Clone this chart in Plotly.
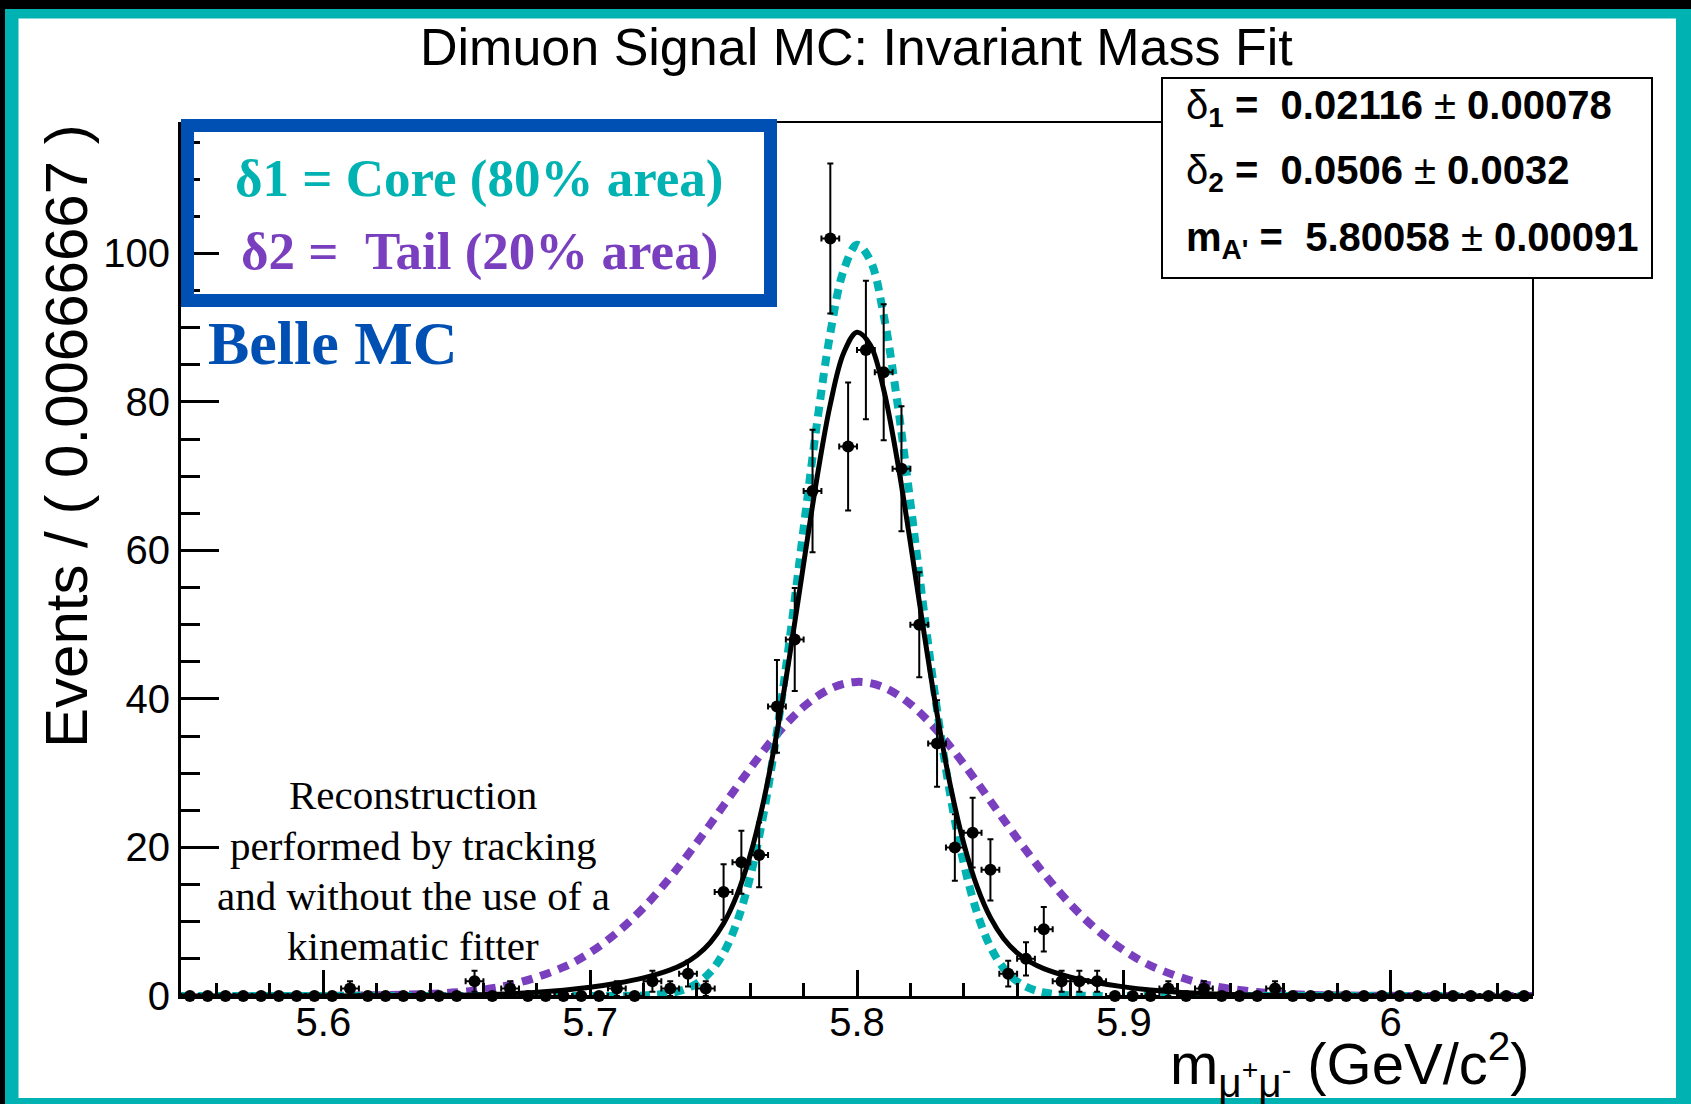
import plotly.graph_objects as go

# ------------------------------------------------------------------ data
X_MIN = 5.546667          # histogram / axis range (76 bins of 0.00666667)
X_MAX = 6.053333
BIN_W = 0.00666667
Y_MAX = 117.7

# events per bin (bins 0..75, left to right)
counts = [0, 0, 0, 0, 0, 0, 0, 0, 0, 1,
          0, 0, 0, 0, 0, 0, 2, 0, 1, 0,
          0, 0, 0, 0, 1, 0, 2, 1, 3, 1,
          14, 18, 19, 39, 48, 68, 102, 74, 87, 84,
          71, 50, 34, 20, 22, 17, 3, 5, 9, 2,
          2, 2, 0, 0, 0, 1, 0, 1, 0, 0,
          0, 1, 0, 0, 0, 0, 0, 0, 0, 0,
          0, 0, 0, 0, 0, 0]

# fit curves
curve_x = [5.5467, 5.60, 5.65, 5.67, 5.69, 5.70, 5.71, 5.72, 5.73, 5.735,
           5.74, 5.745, 5.75, 5.755, 5.76, 5.765, 5.77, 5.775, 5.78, 5.785,
           5.79, 5.795, 5.80, 5.805, 5.81, 5.815, 5.82, 5.825, 5.83, 5.835,
           5.84, 5.845, 5.85, 5.855, 5.86, 5.865, 5.87, 5.88, 5.89, 5.90,
           5.91, 5.93, 5.95, 5.97, 6.00, 6.0533]
total_fit = [0, 0.003, 0.10, 0.30, 0.78, 1.17, 1.71, 2.44, 3.51, 4.31,
             5.47, 7.19, 9.77, 13.58, 18.98, 26.27, 35.51, 46.38, 58.19, 69.76,
             79.69, 86.59, 89.39, 87.66, 81.67, 72.35, 61.04, 49.17, 37.99, 28.31,
             20.55, 14.72, 10.55, 7.72, 5.82, 4.55, 3.68, 2.54, 1.79, 1.23,
             0.82, 0.32, 0.11, 0.03, 0.004, 0]
core_fit = [0, 0, 0, 0, 0, 0.001, 0.011, 0.072, 0.387, 0.83,
            1.68, 3.21, 5.80, 9.93, 16.06, 24.58, 35.58, 48.68, 63.0, 77.11,
            89.26, 97.72, 101.16, 99.04, 91.69, 80.28, 66.47, 52.05, 38.55, 26.99,
            17.88, 11.20, 6.63, 3.71, 1.97, 0.99, 0.47, 0.089, 0.013, 0.002,
            0, 0, 0, 0, 0, 0]
tail_fit = [0.0001, 0.016, 0.50, 1.51, 3.88, 5.86, 8.52, 11.89, 15.98, 18.26,
            20.65, 23.13, 25.66, 28.18, 30.66, 33.03, 35.23, 37.22, 38.94, 40.34,
            41.38, 42.04, 42.30, 42.14, 41.58, 40.62, 39.30, 37.66, 35.73, 33.57,
            31.24, 28.79, 26.26, 23.73, 21.24, 18.82, 16.51, 12.35, 8.88, 6.15,
            4.09, 1.61, 0.54, 0.156, 0.018, 0]

x_tick_vals = [5.6, 5.7, 5.8, 5.9, 6.0]
x_tick_text = ["5.6", "5.7", "5.8", "5.9", "6"]
y_tick_vals = [0, 20, 40, 60, 80, 100]

title_text = "Dimuon Signal MC: Invariant Mass Fit"
y_title = "Events / ( 0.00666667 )"
x_title = "m<sub>μ<sup>+</sup>μ<sup>-</sup></sub> (GeV/c<sup>2</sup>)"
stats_lines = ["δ<sub><b>1</b></sub><b> =  0.02116 </b>±<b> 0.00078</b>",
               "δ<sub><b>2</b></sub><b> =  0.0506 </b>±<b> 0.0032</b>",
               "<b>m<sub>A'</sub> =  5.80058 </b>±<b> 0.00091</b>"]
legend_lines = ["δ1 = Core (80% area)", "δ2 =\u00a0 Tail (20% area)"]
note_lines = ["Reconstruction", "performed by tracking",
              "and without the use of a", "kinematic fitter"]

# ------------------------------------------------------------------ geometry
W, H = 1691, 1104
PL, PR, PT, PB = 181, 1533, 122, 996   # plot area in pixels


def px(x):
    return (x - PL) / (PR - PL)


def py(y):
    return (PB - y) / (PB - PT)


TEAL = "#00B2B2"
PURPLE = "#7A3FBE"
BLUE = "#0050B4"
SANS = "Liberation Sans"
SERIF = "Liberation Serif"

centers = [X_MIN + (k + 0.5) * BIN_W for k in range(len(counts))]

fig = go.Figure()

fig.add_trace(go.Scatter(x=curve_x, y=tail_fit, mode="lines", line_shape="spline",
                         line=dict(color=PURPLE, width=8, dash="11px,8px"),
                         hoverinfo="skip", showlegend=False))
fig.add_trace(go.Scatter(x=curve_x, y=core_fit, mode="lines", line_shape="spline",
                         line=dict(color=TEAL, width=8, dash="10px,7px"),
                         hoverinfo="skip", showlegend=False))
fig.add_trace(go.Scatter(x=curve_x, y=total_fit, mode="lines", line_shape="spline",
                         line=dict(color="black", width=5),
                         hoverinfo="skip", showlegend=False))
fig.add_trace(go.Scatter(x=centers, y=counts, mode="markers",
                         marker=dict(color="black", size=12),
                         error_y=dict(type="sqrt", color="black", thickness=2, width=3),
                         error_x=dict(type="constant", value=BIN_W / 2, color="black",
                                      thickness=2, width=3),
                         cliponaxis=False, showlegend=False))

axis_common = dict(showline=True, linecolor="black", linewidth=3, mirror=False,
                   ticks="inside", tickcolor="black", tickwidth=2.5,
                   showgrid=False, zeroline=False,
                   tickfont=dict(family=SANS, size=40, color="black"))

fig.update_xaxes(range=[X_MIN, X_MAX], tickmode="array", tickvals=x_tick_vals,
                 ticktext=x_tick_text, ticklen=26, ticklabelstandoff=-11,
                 minor=dict(ticks="inside", ticklen=13, tickwidth=2.5, tickcolor="black",
                            dtick=0.02, tick0=5.5),
                 **axis_common)
fig.update_yaxes(range=[0, Y_MAX], tickmode="array", tickvals=y_tick_vals, ticklen=38,
                 minor=dict(ticks="inside", ticklen=19, tickwidth=2.5, tickcolor="black",
                            dtick=5, tick0=0),
                 **axis_common)

shapes = []
# top and right frame lines
shapes.append(dict(type="line", xref="paper", yref="paper", x0=0, x1=1, y0=1, y1=1,
                   line=dict(color="black", width=2), layer="above"))
shapes.append(dict(type="line", xref="paper", yref="paper", x0=1, x1=1, y0=0, y1=1,
                   line=dict(color="black", width=2), layer="above"))
# fit-result box
shapes.append(dict(type="rect", xref="paper", yref="paper",
                   x0=px(1162), x1=px(1652), y0=py(278), y1=py(78),
                   fillcolor="white", line=dict(color="black", width=2), layer="above"))
# blue legend box
shapes.append(dict(type="rect", xref="paper", yref="paper",
                   x0=px(187.5), x1=px(770.5), y0=py(300.5), y1=py(125.5),
                   fillcolor="rgba(0,0,0,0)", line=dict(color=BLUE, width=13),
                   layer="above"))
# outer teal / black frame of the picture
for (x0, y0, x1, y1, c) in [(0, 0, W, 9, "black"), (0, 0, 5, H, "black"),
                            (5, 9, W, 18.5, TEAL), (5, 9, 18.5, H, TEAL),
                            (1676, 9, W, H, TEAL), (5, 1098, W, H, TEAL)]:
    shapes.append(dict(type="rect", xref="paper", yref="paper",
                       x0=px(x0), x1=px(x1), y0=py(y1), y1=py(y0),
                       fillcolor=c, line=dict(width=0), layer="above"))

ann = []
ann.append(dict(text=title_text, x=px(856), y=py(47), xanchor="center", yanchor="middle",
                font=dict(family=SANS, size=52, color="black")))
ann.append(dict(text=y_title, x=px(67), y=py(436), xanchor="center", yanchor="middle",
                textangle=-90, font=dict(family=SANS, size=60, color="black")))
ann.append(dict(text=x_title, x=px(1532), y=py(1064), xanchor="right", yanchor="middle",
                font=dict(family=SANS, size=58, color="black")))
for t, yy in zip(stats_lines, [108, 173, 240]):
    ann.append(dict(text=t, x=px(1184), y=py(yy), xanchor="left", yanchor="middle",
                    font=dict(family=SANS, size=40, color="black")))
for t, yy, c in zip(legend_lines, [179, 251], [TEAL, PURPLE]):
    ann.append(dict(text="<b>" + t + "</b>", x=px(479), y=py(yy), xanchor="center",
                    yanchor="middle", font=dict(family=SERIF, size=53, color=c)))
ann.append(dict(text="<b>Belle MC</b>", x=px(206), y=py(343), xanchor="left",
                yanchor="middle", font=dict(family=SERIF, size=62, color=BLUE)))
for t, yy in zip(note_lines, [795, 845.5, 896, 946]):
    ann.append(dict(text=t, x=px(413), y=py(yy), xanchor="center", yanchor="middle",
                    font=dict(family=SERIF, size=41, color="black")))
for a in ann:
    a.update(xref="paper", yref="paper", showarrow=False)

fig.update_layout(width=W, height=H, autosize=False,
                  margin=dict(l=PL, r=W - PR, t=PT, b=H - PB, pad=0),
                  paper_bgcolor="white", plot_bgcolor="white",
                  shapes=shapes, annotations=ann, showlegend=False)

fig.write_html("out.html", config={"displayModeBar": False},
               post_script="document.body.style.margin='0';document.body.style.overflow='hidden';")
